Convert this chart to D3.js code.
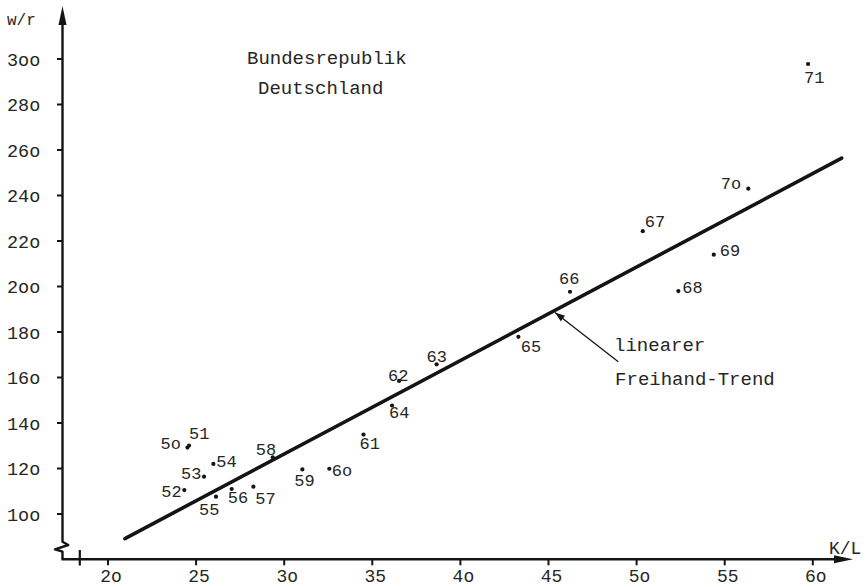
<!DOCTYPE html>
<html>
<head>
<meta charset="utf-8">
<script src="https://cdn.jsdelivr.net/npm/d3@7"></script>
<style>
  html, body { margin: 0; padding: 0; background: #fff; }
  svg { display: block; }
  text { font-family: "Liberation Mono", "DejaVu Sans Mono", monospace; fill: #262626; }
</style>
</head>
<body>
<svg id="chart" width="868" height="587"></svg>
<script>
// ---- data ----
const years = ["5o","51","52","53","54","55","56","57","58","59","6o","61","62","63","64","65","66","67","68","69","7o","71"];
const kl    = [24.51,24.60,24.33,25.45,25.98,26.13,27.02,28.25,29.35,31.03,32.56,34.50,36.52,38.65,36.12,43.29,46.22,50.35,52.37,54.38,56.34,59.73];
const wr    = [129.2,130.1,110.5,116.4,122.0,107.6,111.0,112.0,124.9,119.6,119.9,134.9,158.5,165.8,147.7,177.9,197.7,224.3,198.0,214.0,243.0,297.8];
const xTicks = [20,25,30,35,40,45,50,55,60];
const xTickLabels = ["2o","25","3o","35","4o","45","5o","55","6o"];
const yTicks = [100,120,140,160,180,200,220,240,260,280,300];
const yTickLabels = ["1oo","12o","14o","16o","18o","2oo","22o","24o","26o","28o","3oo"];
const trendKL = [20.96, 61.64];
const trendWR = [89.2, 256.4];
const breakTickKL = 18.4;

// ---- label placement (pixels relative to dot) ----
const labelOffsets = [[-27,1],[0,-7],[-23,6.7],[-23,2],[3,3],[-17,18.3],[-4,14.3],[2,17.3],[-17,-2.3],[-8,16.7],[2.5,7.3],[-4,14],[-11,0],[-10,-2.6],[-3,13],[2.5,15],[-11,-7.7],[2,-4.6],[4,1.7],[6,1.3],[-27.5,0.6],[-4,19.3]];

const svg = d3.select("#chart");
const x = d3.scaleLinear().domain([20, 60]).range([108, 812.8]);
const y = d3.scaleLinear().domain([100, 300]).range([514, 59]);

const axisX = 62.5, axisY = 559.3;
const ink = "#141414";

// y axis with break
svg.append("path")
  .attr("d", `M${axisX},${axisY} L${axisX},551.7 L55,549.3 L68.3,545 L${axisX},541.7 L${axisX},22`)
  .attr("fill", "none").attr("stroke", ink).attr("stroke-width", 2.4).attr("stroke-linejoin", "round");
svg.append("path")
  .attr("d", `M${axisX},6 L${axisX - 4},25 L${axisX + 4},25 Z`)
  .attr("fill", ink);

// x axis
svg.append("line")
  .attr("x1", axisX - 1).attr("y1", axisY).attr("x2", 836).attr("y2", axisY)
  .attr("stroke", ink).attr("stroke-width", 2.4);
svg.append("path")
  .attr("d", `M853,${axisY} L834,${axisY - 4} L834,${axisY + 4} Z`)
  .attr("fill", ink);

// y ticks
const yAxisG = svg.append("g");
yAxisG.selectAll("line").data(yTicks).join("line")
  .attr("x1", 57).attr("x2", axisX).attr("y1", d => y(d)).attr("y2", d => y(d))
  .attr("stroke", ink).attr("stroke-width", 2);
yAxisG.selectAll("text").data(yTicks).join("text")
  .attr("x", 7).attr("y", d => y(d) + 6.7)
  .attr("font-size", 18.5)
  .text((d, i) => yTickLabels[i]);

// x ticks
const xAxisG = svg.append("g");
xAxisG.selectAll("line").data(xTicks).join("line")
  .attr("x1", d => x(d)).attr("x2", d => x(d)).attr("y1", axisY).attr("y2", axisY + 6)
  .attr("stroke", ink).attr("stroke-width", 2);
xAxisG.selectAll("text").data(xTicks).join("text")
  .attr("x", d => x(d) + 3).attr("y", 582)
  .attr("text-anchor", "middle")
  .attr("font-size", 18)
  .text((d, i) => xTickLabels[i]);
// break tick on x axis
svg.append("line")
  .attr("x1", x(breakTickKL)).attr("x2", x(breakTickKL)).attr("y1", 550).attr("y2", 565.5)
  .attr("stroke", ink).attr("stroke-width", 2.2);

// axis titles
svg.append("text").attr("x", 7).attr("y", 25).attr("font-size", 16).text("w/r");
svg.append("text").attr("x", 829).attr("y", 553.5).attr("font-size", 18).text("K/L");

// chart title
svg.append("text").attr("x", 247).attr("y", 64.3).attr("font-size", 19).text("Bundesrepublik");
svg.append("text").attr("x", 258).attr("y", 94).attr("font-size", 19).text("Deutschland");

// trend line
svg.append("line")
  .attr("x1", x(trendKL[0])).attr("y1", y(trendWR[0]))
  .attr("x2", x(trendKL[1])).attr("y2", y(trendWR[1]))
  .attr("stroke", ink).attr("stroke-width", 3.6).attr("stroke-linecap", "round");

// annotation arrow
const arrowFrom = [48.96, 166.9], arrowTo = [45.37, 188.6];
const ax1 = x(arrowFrom[0]), ay1 = y(arrowFrom[1]), ax2 = x(arrowTo[0]), ay2 = y(arrowTo[1]);
svg.append("line")
  .attr("x1", ax1).attr("y1", ay1).attr("x2", ax2).attr("y2", ay2)
  .attr("stroke", ink).attr("stroke-width", 1.3);
{
  const ang = Math.atan2(ay2 - ay1, ax2 - ax1);
  const L = 10, W = 3.5;
  const bx = ax2 - L * Math.cos(ang), by = ay2 - L * Math.sin(ang);
  const px = -Math.sin(ang) * W, py = Math.cos(ang) * W;
  svg.append("path")
    .attr("d", `M${ax2},${ay2} L${bx + px},${by + py} L${bx - px},${by - py} Z`)
    .attr("fill", ink);
}
svg.append("text").attr("x", x(48.72)).attr("y", 350.7).attr("font-size", 19).text("linearer");
svg.append("text").attr("x", x(48.78)).attr("y", 385).attr("font-size", 19).text("Freihand-Trend");

// points
const pts = svg.append("g");
pts.selectAll("circle").data(kl).join("circle")
  .attr("cx", d => x(d)).attr("cy", (d, i) => y(wr[i]))
  .attr("r", 2.1).attr("fill", ink);
pts.selectAll("text").data(kl).join("text")
  .attr("x", (d, i) => x(d) + labelOffsets[i][0])
  .attr("y", (d, i) => y(wr[i]) + labelOffsets[i][1])
  .attr("font-size", 17)
  .text((d, i) => years[i]);
</script>
</body>
</html>
